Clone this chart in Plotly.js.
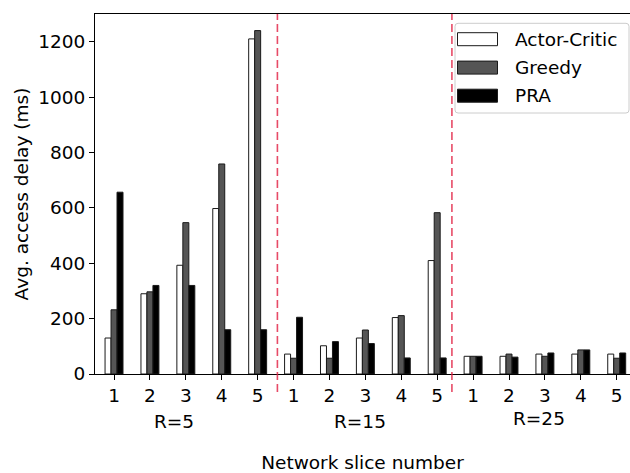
<!DOCTYPE html>
<html>
<head>
<meta charset="utf-8">
<script src="https://cdn.plot.ly/plotly-3.0.1.min.js"></script>
<style>html,body{margin:0;padding:0;background:#fff;}#chart{width:630px;height:473px;}</style>
</head>
<body>
<div id="chart"></div>
<script>
// ---- data ----
const slotIndex = [0,1,2,3,4,5,6,7,8,9,10,11,12,13,14];
const tickLabels = ["1","2","3","4","5","1","2","3","4","5","1","2","3","4","5"];
const groupLabels = ["R=5","R=15","R=25"];
const groupLabelX = [1.67, 6.85, 11.84];
const separatorX = [4.55, 9.41];
const seriesNames = ["Actor-Critic","Greedy","PRA"];
const actorCritic = [130,290,393,598,1211, 72,102,130,204,410, 64,64,72,72,72];
const greedy      = [232,297,547,759,1241, 57,57,159,211,583, 64,72,64,87,57];
const pra         = [657,320,320,160,160, 205,117,110,58,58, 64,61,76,87,76];

const fills = ["#ffffff","#555555","#000000"];
const FONT = "DejaVu Sans";
const FS = 18.5;

// plot area geometry (px)
const L = 95, T = 14, W = 630, H = 473, B = 99, R = 0;
const pw = W - L - R, ph = H - T - B;
const px2x = x => (x - L) / pw;
const px2y = y => (H - B - y) / ph;

const seriesVals = [actorCritic, greedy, pra];
const traces = seriesNames.map((n, i) => ({
  type: "bar", name: n, x: slotIndex, y: seriesVals[i],
  marker: {color: fills[i], line: {color: "#1a1a1a", width: 1}},
  showlegend: false, hoverinfo: "x+y+name"
}));

const shapes = [];
separatorX.forEach(sx => shapes.push({
  type: "line", xref: "x", yref: "paper", x0: sx, x1: sx, y0: -0.05, y1: 1,
  line: {color: "rgba(225,30,65,0.8)", width: 1.6, dash: "8px,4px"}
}));

// manual legend
const lb = {x0: 455, x1: 629, y0: 23.3, y1: 113, r: 3};
function roundRect(b) {
  const p = [
    [b.x0 + b.r, b.y0], [b.x1 - b.r, b.y0], [b.x1, b.y0 + b.r], [b.x1, b.y1 - b.r],
    [b.x1 - b.r, b.y1], [b.x0 + b.r, b.y1], [b.x0, b.y1 - b.r], [b.x0, b.y0 + b.r]
  ].map(q => [px2x(q[0]), px2y(q[1])]);
  return `M${p[0][0]},${p[0][1]} L${p[1][0]},${p[1][1]} Q${px2x(b.x1)},${px2y(b.y0)} ${p[2][0]},${p[2][1]} L${p[3][0]},${p[3][1]} Q${px2x(b.x1)},${px2y(b.y1)} ${p[4][0]},${p[4][1]} L${p[5][0]},${p[5][1]} Q${px2x(b.x0)},${px2y(b.y1)} ${p[6][0]},${p[6][1]} L${p[7][0]},${p[7][1]} Q${px2x(b.x0)},${px2y(b.y0)} ${p[0][0]},${p[0][1]} Z`;
}
shapes.push({type: "path", xref: "paper", yref: "paper", path: roundRect(lb),
  fillcolor: "rgba(255,255,255,0.85)", line: {color: "#cccccc", width: 1}, layer: "above"});

const rowY = [39.2, 67.6, 95.7];
const annotations = [];
seriesNames.forEach((n, i) => {
  shapes.push({type: "rect", xref: "paper", yref: "paper",
    x0: px2x(457.5), x1: px2x(497.5), y0: px2y(rowY[i] - 6.5), y1: px2y(rowY[i] + 6.5),
    fillcolor: fills[i], line: {color: "#1a1a1a", width: 1}, layer: "above"});
  annotations.push({xref: "paper", yref: "paper", x: px2x(512.5), y: px2y(rowY[i]),
    xanchor: "left", yanchor: "middle", text: n, showarrow: false,
    font: {family: FONT, size: FS, color: "#000"}});
});

const groupLabelY = [421, 421, 418];
groupLabels.forEach((g, i) => annotations.push({
  xref: "x", yref: "paper", x: groupLabelX[i], y: px2y(groupLabelY[i]),
  xanchor: "center", yanchor: "middle", text: g, showarrow: false,
  font: {family: FONT, size: FS, color: "#000"}
}));

const layout = {
  width: W, height: H,
  margin: {l: L, r: R, t: T, b: B, pad: 0},
  paper_bgcolor: "#fff", plot_bgcolor: "#fff",
  font: {family: FONT, size: FS, color: "#000"},
  barmode: "group", bargap: 0.5, bargroupgap: 0,
  showlegend: false,
  xaxis: {
    range: [-0.53, 14.37], tickmode: "array", tickvals: slotIndex, ticktext: tickLabels,
    showline: true, linecolor: "#000", linewidth: 1, mirror: true,
    ticks: "outside", ticklen: 5, tickwidth: 1, tickcolor: "#000",
    showgrid: false, zeroline: false, automargin: false,
    title: {text: "Network slice number", standoff: 51, font: {family: FONT, size: FS}}
  },
  yaxis: {
    range: [0, 1301], tickvals: [0,200,400,600,800,1000,1200],
    showline: true, linecolor: "#000", linewidth: 1,
    ticks: "outside", ticklen: 5, tickwidth: 1, tickcolor: "#000",
    showgrid: false, zeroline: false, automargin: false,
    title: {text: "Avg. access delay (ms)", standoff: 4, font: {family: FONT, size: FS}}
  },
  shapes: shapes,
  annotations: annotations
};

Plotly.newPlot("chart", traces, layout, {displayModeBar: false, staticPlot: true});
</script>
</body>
</html>
